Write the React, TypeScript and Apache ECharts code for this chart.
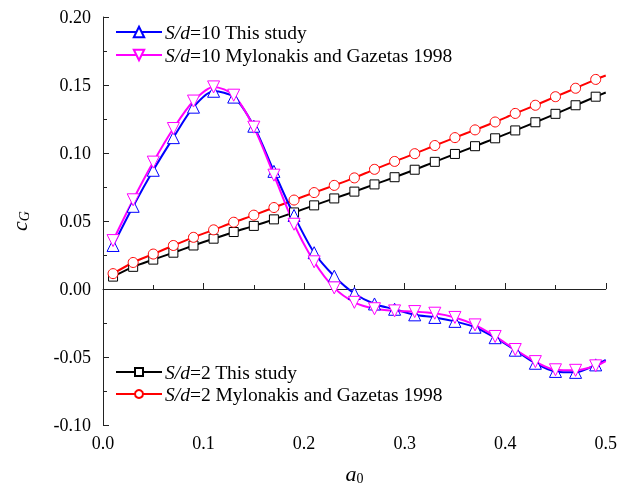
import React, { useEffect, useRef } from "react";
import * as echarts from "echarts";

const xs = [0.01, 0.03, 0.05, 0.07, 0.09, 0.11, 0.13, 0.15, 0.17, 0.19, 0.21, 0.23, 0.25, 0.27, 0.29, 0.31, 0.33, 0.35, 0.37, 0.39, 0.41, 0.43, 0.45, 0.47, 0.49, 0.5];

const sd2This = [0.0091, 0.0163, 0.0216, 0.0267, 0.032, 0.037, 0.0419, 0.0464, 0.0512, 0.0563, 0.0615, 0.0666, 0.0716, 0.0769, 0.0822, 0.0877, 0.0935, 0.0993, 0.105, 0.1108, 0.1166, 0.1226, 0.1288, 0.1351, 0.1414, 0.1445];
const sd2Mylo = [0.0113, 0.0195, 0.0257, 0.032, 0.038, 0.0435, 0.0491, 0.0543, 0.0599, 0.0654, 0.0709, 0.0762, 0.0817, 0.088, 0.0938, 0.0995, 0.1055, 0.1113, 0.117, 0.1228, 0.1291, 0.1351, 0.1414, 0.1476, 0.1541, 0.157];
const sd10This = [0.032, 0.0608, 0.0873, 0.1113, 0.1337, 0.1454, 0.1411, 0.1197, 0.0865, 0.0541, 0.0267, 0.0094, -0.0033, -0.011, -0.0149, -0.019, -0.0209, -0.0238, -0.0281, -0.0358, -0.045, -0.0546, -0.0606, -0.0613, -0.0558, -0.0522];
const sd10Mylo = [0.0356, 0.0656, 0.0933, 0.118, 0.1382, 0.1486, 0.1425, 0.119, 0.0837, 0.0476, 0.02, 0.0008, -0.0098, -0.0145, -0.0161, -0.0166, -0.0178, -0.0209, -0.0264, -0.0349, -0.0445, -0.0534, -0.0594, -0.0598, -0.0565, -0.053];

const names = [
  "S/d=10 This study",
  "S/d=10 Mylonakis and Gazetas 1998",
  "S/d=2 This study",
  "S/d=2 Mylonakis and Gazetas 1998",
];

const FONT = "'Times New Roman', 'Liberation Serif', serif";

function toData(ys: number[]) {
  return xs.map((x, i) =>
    i === xs.length - 1 ? { value: [x, ys[i]], symbol: "none" } : { value: [x, ys[i]] }
  );
}

export default function App() {
  const ref = useRef<HTMLDivElement>(null);
  useEffect(() => {
    if (!ref.current) return;
    const chart = echarts.init(ref.current, undefined, { renderer: "svg" });
    const legendText = {
      fontFamily: FONT,
      fontSize: 19.5,
      color: "#000",
      padding: [0, 0, 0, -2],
      rich: { i: { fontFamily: FONT, fontSize: 19.5, fontStyle: "italic", color: "#000" } },
    };
    const fmt = (n: string) => n.replace("S/d", "{i|S/d}");
    const mk = (name: string, ys: number[], color: string, symbol: string, size: number) => ({
      name,
      type: "line",
      data: toData(ys),
      smooth: 0.3,
      symbol,
      symbolSize: size,
      showAllSymbol: true,
      lineStyle: { color, width: 2 },
      itemStyle: { color: "#fff", borderColor: color, borderWidth: 1 },
      emphasis: { disabled: true },
    });
    chart.setOption({
      animation: false,
      grid: { left: 93, right: 11, top: 17, bottom: 57, containLabel: false },
      legend: [
        {
          data: [names[0], names[1]],
          orient: "vertical",
          left: 110,
          top: 17,
          itemGap: 3,
          itemWidth: 46,
          itemHeight: 13,
          formatter: fmt,
          textStyle: legendText,
          selectedMode: false,
        },
        {
          data: [names[2], names[3]],
          orient: "vertical",
          left: 110,
          top: 357,
          itemGap: 2,
          itemWidth: 46,
          itemHeight: 10,
          formatter: fmt,
          textStyle: legendText,
          selectedMode: false,
        },
      ],
      xAxis: {
        type: "value",
        min: 0,
        max: 0.5,
        interval: 0.1,
        name: "{i|a}{s|0}",
        nameLocation: "middle",
        nameGap: 36,
        nameTextStyle: {
          rich: {
            i: { fontFamily: FONT, fontSize: 22, fontStyle: "italic", color: "#000" },
            s: { fontFamily: FONT, fontSize: 14, color: "#000", padding: [10, 0, 0, 0] },
          },
        },
        axisLine: { lineStyle: { color: "#222", width: 1 } },
        axisTick: { inside: true, length: 6, lineStyle: { color: "#222" } },
        minorTick: { show: true, splitNumber: 2, length: 4, lineStyle: { color: "#222" } },
        splitLine: { show: false },
        axisLabel: {
          fontFamily: FONT,
          fontSize: 18,
          color: "#000",
          margin: 9,
          formatter: (v: number) => v.toFixed(1),
        },
      },
      yAxis: {
        type: "value",
        min: -0.1,
        max: 0.2,
        interval: 0.05,
        name: "{i|c}{s|G}",
        nameLocation: "middle",
        nameRotate: 90,
        nameGap: 72,
        nameTextStyle: {
          rich: {
            i: { fontFamily: FONT, fontSize: 22, fontStyle: "italic", color: "#000" },
            s: { fontFamily: FONT, fontSize: 14, fontStyle: "italic", color: "#000", padding: [10, 0, 0, 0] },
          },
        },
        axisLine: { show: true, lineStyle: { color: "#222", width: 1 } },
        axisTick: { show: true, inside: true, length: 6, lineStyle: { color: "#222" } },
        minorTick: { show: true, splitNumber: 2, length: 4, lineStyle: { color: "#222" } },
        splitLine: { show: false },
        axisLabel: {
          fontFamily: FONT,
          fontSize: 18,
          color: "#000",
          margin: 12,
          formatter: (v: number) => v.toFixed(2),
        },
      },
      series: [
        mk(names[2], sd2This, "#000000", "rect", 9),
        mk(names[3], sd2Mylo, "#ff0000", "circle", 10),
        mk(names[0], sd10This, "#0000ff", "triangle", 12),
        mk(names[1], sd10Mylo, "#ff00ff", "path://M0,0 L10,0 L5,9 Z", 12),
      ],
    });
    return () => chart.dispose();
  }, []);
  return (
    <div
      ref={ref}
      style={{ position: "fixed", left: 0, top: 0, width: 620, height: 490 }}
    />
  );
}
